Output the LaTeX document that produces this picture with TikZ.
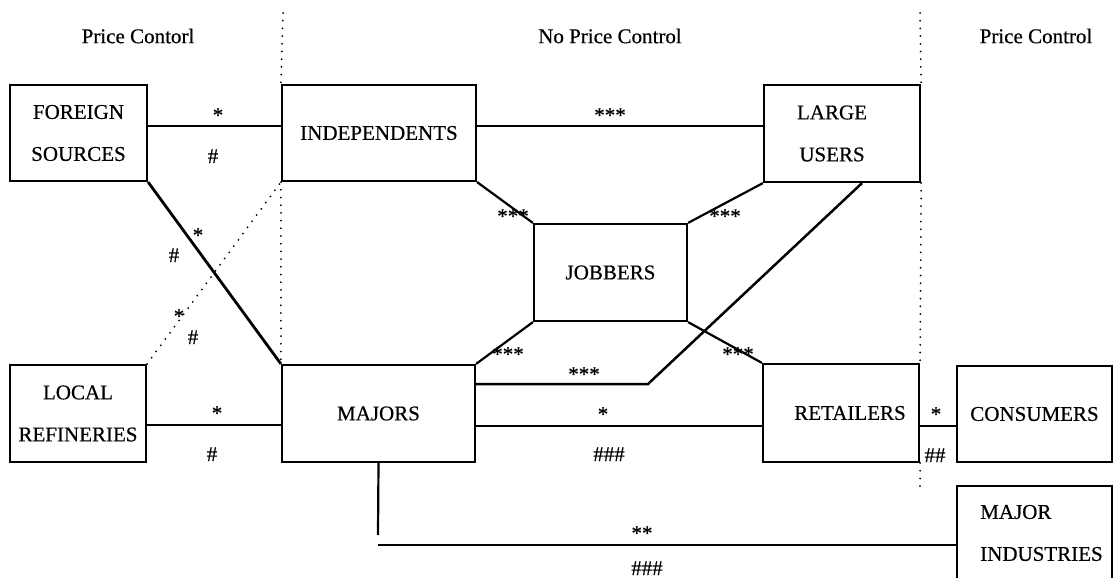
\documentclass[tikz,border=0pt]{standalone}
\usepackage{fontspec}
\setmainfont{Liberation Serif}[BoldFont=Liberation Serif, BoldFeatures={FakeBold=0.5}]
\begin{document}
\begin{tikzpicture}[x=1pt,y=-1pt,
  box/.style={draw, line width=2.2pt, inner sep=0pt, font=\fontsize{21}{42}\selectfont\bfseries, align=center},
  lblc/.style={inner sep=0pt, font=\fontsize{21}{42}\selectfont\bfseries, align=center},
  lbl/.style={inner sep=0pt, anchor=base, font=\fontsize{21}{25}\selectfont\bfseries},
  hdr/.style={inner sep=0pt, font=\fontsize{21}{25}\selectfont\bfseries},
  conn/.style={line width=2.2pt},
  thickc/.style={line width=2.8pt},
  dotline/.style={line width=2pt, dash pattern=on 0pt off 7.7pt, line cap=round}
]
\useasboundingbox (0,0) rectangle (1114,578);
\clip (0,0) rectangle (1114,578);

% headers
\node[hdr] (h1) at (138,36) {Price Contorl};
\node[hdr] (h2) at (610,36) {No Price Control};
\node[hdr] (h3) at (1036,36) {Price Control};

% boxes
\node[box, minimum width=137pt, minimum height=96pt] (FS) at (78.5,133) {FOREIGN\\SOURCES};
\node[box, minimum width=194pt, minimum height=96pt] (IND) at (379,133) {INDEPENDENTS};
\node[box, minimum width=156pt, minimum height=97pt, label={[lblc, xshift=-10pt]center:LARGE\\USERS}] (LU) at (842,133.5) {};
\node[box, minimum width=153pt, minimum height=97pt] (JOB) at (610.5,272.5) {JOBBERS};
\node[box, minimum width=136pt, minimum height=97pt] (LR) at (78,413.5) {LOCAL\\REFINERIES};
\node[box, minimum width=193pt, minimum height=97pt] (MAJ) at (378.5,413.5) {MAJORS};
\node[box, minimum width=156pt, minimum height=98pt, label={[lblc, xshift=9pt]center:RETAILERS}] (RET) at (841,413) {};
\node[box, minimum width=155pt, minimum height=96pt] (CON) at (1034.5,414) {CONSUMERS};
\node[box, minimum width=155pt, minimum height=94pt, label={[lblc, align=left, xshift=7pt]center:MAJOR\\INDUSTRIES}] (MI) at (1034.5,533) {};

% dotted boundaries
\coordinate (d1top) at (283,13);
\coordinate (d2top) at (920,13);
\coordinate (d2bot) at (920,493);
\draw[dotline] (d1top) -- (IND.north west);
\draw[dotline] (IND.south west) -- (MAJ.north west);
\draw[dotline] (d2top) -- (LU.north east);
\draw[dotline] (LU.south east) -- (RET.north east);
\draw[dotline] (RET.south east) -- (d2bot);
\draw[dotline] (LR.north east) -- (IND.south west);

% connectors
\draw[conn] ([yshift=7pt]FS.east) -- ([yshift=7pt]IND.west);
\draw[conn] ([yshift=7pt]IND.east) -- ([yshift=7.5pt]LU.west);
\draw[thickc] (FS.south east) -- (MAJ.north west);
\draw[conn] (IND.south east) -- (JOB.north west);
\draw[conn] (LU.south west) -- (JOB.north east);
\draw[conn] (MAJ.north east) -- (JOB.south west);
\draw[conn] (JOB.south east) -- (RET.north west);
\coordinate (bend) at (648,384);
\draw[conn, line width=2.5pt] ([yshift=29.5pt]MAJ.east) -- (bend) -- ([xshift=20pt]LU.south);
\draw[conn] ([yshift=-11.5pt]LR.east) -- ([yshift=-11.5pt]MAJ.west);
\draw[conn] ([yshift=-12.5pt]MAJ.east) -- ([yshift=-13pt]RET.west);
\draw[conn] ([yshift=-13pt]RET.east) -- ([yshift=-12pt]CON.west);
\coordinate (mv) at (378,535);
\coordinate (mh) at (378,545);
\draw[conn] (MAJ.south) -- (mv);
\draw[conn] (mh) -- ([yshift=-12pt]MI.west);

% connector labels
\node[lbl] (l1) at (218,122) {*};
\node[lbl] (l2) at (213,163) {\#};
\node[lbl] (l3) at (610,122) {***};
\node[lbl] (l4) at (198,242) {*};
\node[lbl] (l5) at (174,262) {\#};
\node[lbl] (l6) at (179,323) {*};
\node[lbl] (l7) at (193,344) {\#};
\node[lbl] (l8) at (513,223) {***};
\node[lbl] (l9) at (725,223) {***};
\node[lbl] (l10) at (508,361) {***};
\node[lbl] (l11) at (738,361) {***};
\node[lbl] (l12) at (584,381) {***};
\node[lbl] (l13) at (217,420) {*};
\node[lbl] (l14) at (212,461) {\#};
\node[lbl] (l15) at (603,421) {*};
\node[lbl] (l16) at (609,461) {\#\#\#};
\node[lbl] (l17) at (936,421) {*};
\node[lbl] (l18) at (935,462) {\#\#};
\node[lbl] (l19) at (642,540) {**};
\node[lbl] (l20) at (647,575) {\#\#\#};
\end{tikzpicture}
\end{document}
